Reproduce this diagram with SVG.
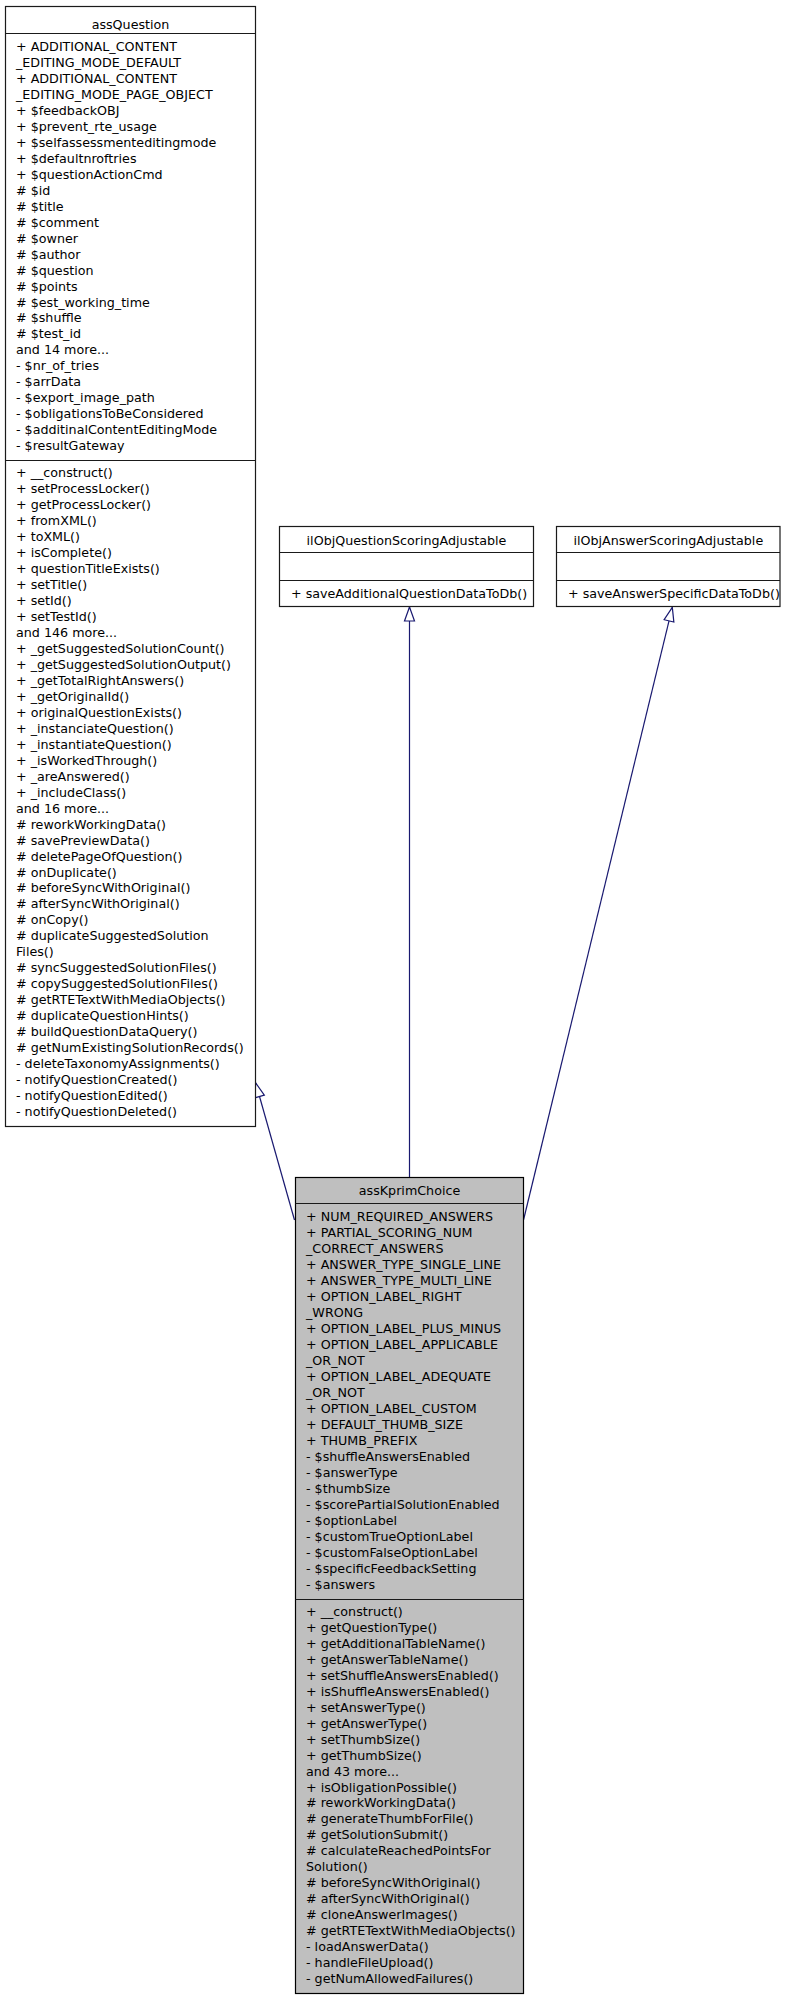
<svg xmlns="http://www.w3.org/2000/svg" width="803" height="2000" viewBox="0 0 803 2000">
<style>
text{font-family:"DejaVu Sans","Liberation Sans",sans-serif;font-size:12.7px;fill:#000}
.t{text-anchor:middle}
.box{fill:#fff;stroke:#1a1a1a;stroke-width:1.2}
.main{fill:#bfbfbf;stroke:#000;stroke-width:1.2}
.sep{stroke:#1a1a1a;stroke-width:1.2}
.edge{fill:none;stroke:#191970;stroke-width:1.2}
</style>
<defs>
<marker id="inh" viewBox="-16 -7 18 14" refX="0" refY="0" markerWidth="18" markerHeight="14" markerUnits="userSpaceOnUse" orient="auto">
<path d="M0,0 L-14,-5 L-14,5 Z" fill="#fff" stroke="#191970" stroke-width="1.2"/>
</marker>
</defs>
<rect width="803" height="2000" fill="#fff"/>
<g id="connectors">
<path class="edge" d="M294.5,1220 L255.7,1083" marker-end="url(#inh)"/>
<path class="edge" d="M409.5,1177 L409.5,607" marker-end="url(#inh)"/>
<path class="edge" d="M523.5,1220 L672.3,607.3" marker-end="url(#inh)"/>
</g>
<g id="assQuestion">
<rect class="box" x="5.5" y="6.5" width="250" height="1120"/>
<line class="sep" x1="5.5" y1="33.5" x2="255.5" y2="33.5"/>
<line class="sep" x1="5.5" y1="460.5" x2="255.5" y2="460.5"/>
<text class="t" x="130.5" y="28.5">assQuestion</text>
<text x="16" y="51"><tspan x="16">+ ADDITIONAL_CONTENT</tspan><tspan x="16" dy="15.97">_EDITING_MODE_DEFAULT</tspan><tspan x="16" dy="15.97">+ ADDITIONAL_CONTENT</tspan><tspan x="16" dy="15.97">_EDITING_MODE_PAGE_OBJECT</tspan><tspan x="16" dy="15.97">+ $feedbackOBJ</tspan><tspan x="16" dy="15.97">+ $prevent_rte_usage</tspan><tspan x="16" dy="15.97">+ $selfassessmenteditingmode</tspan><tspan x="16" dy="15.97">+ $defaultnroftries</tspan><tspan x="16" dy="15.97">+ $questionActionCmd</tspan><tspan x="16" dy="15.97"># $id</tspan><tspan x="16" dy="15.97"># $title</tspan><tspan x="16" dy="15.97"># $comment</tspan><tspan x="16" dy="15.97"># $owner</tspan><tspan x="16" dy="15.97"># $author</tspan><tspan x="16" dy="15.97"># $question</tspan><tspan x="16" dy="15.97"># $points</tspan><tspan x="16" dy="15.97"># $est_working_time</tspan><tspan x="16" dy="15.97"># $shuffle</tspan><tspan x="16" dy="15.97"># $test_id</tspan><tspan x="16" dy="15.97">and 14 more...</tspan><tspan x="16" dy="15.97">- $nr_of_tries</tspan><tspan x="16" dy="15.97">- $arrData</tspan><tspan x="16" dy="15.97">- $export_image_path</tspan><tspan x="16" dy="15.97">- $obligationsToBeConsidered</tspan><tspan x="16" dy="15.97">- $additinalContentEditingMode</tspan><tspan x="16" dy="15.97">- $resultGateway</tspan></text>
<text x="16" y="477"><tspan x="16">+ __construct()</tspan><tspan x="16" dy="15.98">+ setProcessLocker()</tspan><tspan x="16" dy="15.98">+ getProcessLocker()</tspan><tspan x="16" dy="15.98">+ fromXML()</tspan><tspan x="16" dy="15.98">+ toXML()</tspan><tspan x="16" dy="15.98">+ isComplete()</tspan><tspan x="16" dy="15.98">+ questionTitleExists()</tspan><tspan x="16" dy="15.98">+ setTitle()</tspan><tspan x="16" dy="15.98">+ setId()</tspan><tspan x="16" dy="15.98">+ setTestId()</tspan><tspan x="16" dy="15.98">and 146 more...</tspan><tspan x="16" dy="15.98">+ _getSuggestedSolutionCount()</tspan><tspan x="16" dy="15.98">+ _getSuggestedSolutionOutput()</tspan><tspan x="16" dy="15.98">+ _getTotalRightAnswers()</tspan><tspan x="16" dy="15.98">+ _getOriginalId()</tspan><tspan x="16" dy="15.98">+ originalQuestionExists()</tspan><tspan x="16" dy="15.98">+ _instanciateQuestion()</tspan><tspan x="16" dy="15.98">+ _instantiateQuestion()</tspan><tspan x="16" dy="15.98">+ _isWorkedThrough()</tspan><tspan x="16" dy="15.98">+ _areAnswered()</tspan><tspan x="16" dy="15.98">+ _includeClass()</tspan><tspan x="16" dy="15.98">and 16 more...</tspan><tspan x="16" dy="15.98"># reworkWorkingData()</tspan><tspan x="16" dy="15.98"># savePreviewData()</tspan><tspan x="16" dy="15.98"># deletePageOfQuestion()</tspan><tspan x="16" dy="15.98"># onDuplicate()</tspan><tspan x="16" dy="15.98"># beforeSyncWithOriginal()</tspan><tspan x="16" dy="15.98"># afterSyncWithOriginal()</tspan><tspan x="16" dy="15.98"># onCopy()</tspan><tspan x="16" dy="15.98"># duplicateSuggestedSolution</tspan><tspan x="16" dy="15.98">Files()</tspan><tspan x="16" dy="15.98"># syncSuggestedSolutionFiles()</tspan><tspan x="16" dy="15.98"># copySuggestedSolutionFiles()</tspan><tspan x="16" dy="15.98"># getRTETextWithMediaObjects()</tspan><tspan x="16" dy="15.98"># duplicateQuestionHints()</tspan><tspan x="16" dy="15.98"># buildQuestionDataQuery()</tspan><tspan x="16" dy="15.98"># getNumExistingSolutionRecords()</tspan><tspan x="16" dy="15.98">- deleteTaxonomyAssignments()</tspan><tspan x="16" dy="15.98">- notifyQuestionCreated()</tspan><tspan x="16" dy="15.98">- notifyQuestionEdited()</tspan><tspan x="16" dy="15.98">- notifyQuestionDeleted()</tspan></text>
</g>
<g id="ilObjQuestionScoringAdjustable">
<rect class="box" x="279.5" y="526.5" width="254" height="80"/>
<line class="sep" x1="279.5" y1="552.5" x2="533.5" y2="552.5"/>
<line class="sep" x1="279.5" y1="580.5" x2="533.5" y2="580.5"/>
<text class="t" x="406.5" y="544.5">ilObjQuestionScoringAdjustable</text>
<text x="291" y="598">+ saveAdditionalQuestionDataToDb()</text>
</g>
<g id="ilObjAnswerScoringAdjustable">
<rect class="box" x="556.5" y="526.5" width="223.5" height="80"/>
<line class="sep" x1="556.5" y1="552.5" x2="780" y2="552.5"/>
<line class="sep" x1="556.5" y1="580.5" x2="780" y2="580.5"/>
<text class="t" x="668.3" y="544.5">ilObjAnswerScoringAdjustable</text>
<text x="568" y="598">+ saveAnswerSpecificDataToDb()</text>
</g>
<g id="assKprimChoice">
<rect class="main" x="295.5" y="1177.5" width="228" height="816"/>
<line class="sep" x1="295.5" y1="1203.5" x2="523.5" y2="1203.5"/>
<line class="sep" x1="295.5" y1="1599.5" x2="523.5" y2="1599.5"/>
<text class="t" x="409.5" y="1195">assKprimChoice</text>
<text x="306" y="1221.2"><tspan x="306">+ NUM_REQUIRED_ANSWERS</tspan><tspan x="306" dy="16.01">+ PARTIAL_SCORING_NUM</tspan><tspan x="306" dy="16.01">_CORRECT_ANSWERS</tspan><tspan x="306" dy="16.01">+ ANSWER_TYPE_SINGLE_LINE</tspan><tspan x="306" dy="16.01">+ ANSWER_TYPE_MULTI_LINE</tspan><tspan x="306" dy="16.01">+ OPTION_LABEL_RIGHT</tspan><tspan x="306" dy="16.01">_WRONG</tspan><tspan x="306" dy="16.01">+ OPTION_LABEL_PLUS_MINUS</tspan><tspan x="306" dy="16.01">+ OPTION_LABEL_APPLICABLE</tspan><tspan x="306" dy="16.01">_OR_NOT</tspan><tspan x="306" dy="16.01">+ OPTION_LABEL_ADEQUATE</tspan><tspan x="306" dy="16.01">_OR_NOT</tspan><tspan x="306" dy="16.01">+ OPTION_LABEL_CUSTOM</tspan><tspan x="306" dy="16.01">+ DEFAULT_THUMB_SIZE</tspan><tspan x="306" dy="16.01">+ THUMB_PREFIX</tspan><tspan x="306" dy="16.01">- $shuffleAnswersEnabled</tspan><tspan x="306" dy="16.01">- $answerType</tspan><tspan x="306" dy="16.01">- $thumbSize</tspan><tspan x="306" dy="16.01">- $scorePartialSolutionEnabled</tspan><tspan x="306" dy="16.01">- $optionLabel</tspan><tspan x="306" dy="16.01">- $customTrueOptionLabel</tspan><tspan x="306" dy="16.01">- $customFalseOptionLabel</tspan><tspan x="306" dy="16.01">- $specificFeedbackSetting</tspan><tspan x="306" dy="16.01">- $answers</tspan></text>
<text x="306" y="1616.2"><tspan x="306">+ __construct()</tspan><tspan x="306" dy="15.94">+ getQuestionType()</tspan><tspan x="306" dy="15.94">+ getAdditionalTableName()</tspan><tspan x="306" dy="15.94">+ getAnswerTableName()</tspan><tspan x="306" dy="15.94">+ setShuffleAnswersEnabled()</tspan><tspan x="306" dy="15.94">+ isShuffleAnswersEnabled()</tspan><tspan x="306" dy="15.94">+ setAnswerType()</tspan><tspan x="306" dy="15.94">+ getAnswerType()</tspan><tspan x="306" dy="15.94">+ setThumbSize()</tspan><tspan x="306" dy="15.94">+ getThumbSize()</tspan><tspan x="306" dy="15.94">and 43 more...</tspan><tspan x="306" dy="15.94">+ isObligationPossible()</tspan><tspan x="306" dy="15.94"># reworkWorkingData()</tspan><tspan x="306" dy="15.94"># generateThumbForFile()</tspan><tspan x="306" dy="15.94"># getSolutionSubmit()</tspan><tspan x="306" dy="15.94"># calculateReachedPointsFor</tspan><tspan x="306" dy="15.94">Solution()</tspan><tspan x="306" dy="15.94"># beforeSyncWithOriginal()</tspan><tspan x="306" dy="15.94"># afterSyncWithOriginal()</tspan><tspan x="306" dy="15.94"># cloneAnswerImages()</tspan><tspan x="306" dy="15.94"># getRTETextWithMediaObjects()</tspan><tspan x="306" dy="15.94">- loadAnswerData()</tspan><tspan x="306" dy="15.94">- handleFileUpload()</tspan><tspan x="306" dy="15.94">- getNumAllowedFailures()</tspan></text>
</g>
</svg>
